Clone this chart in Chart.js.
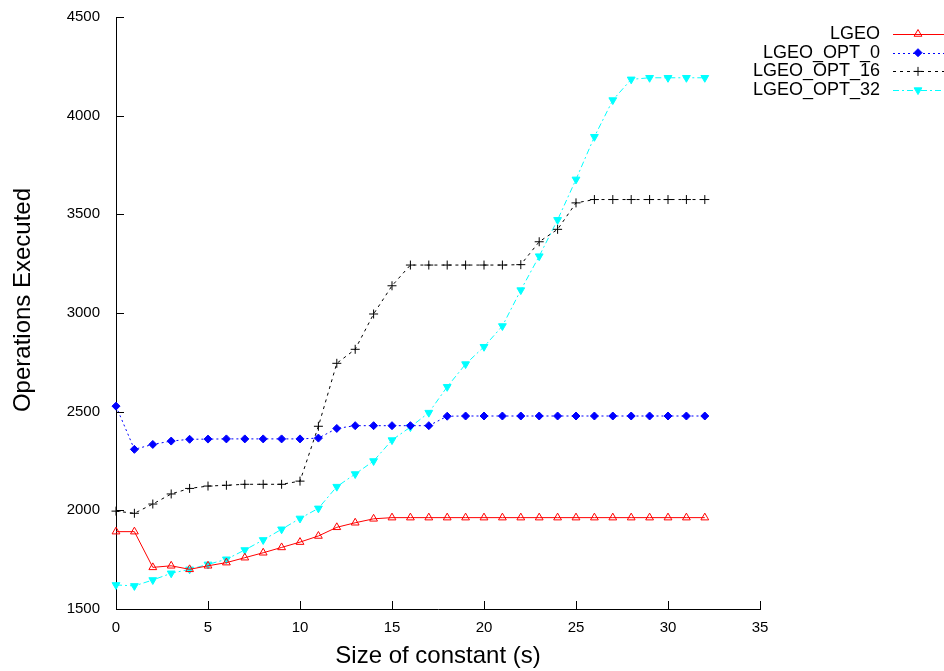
<!DOCTYPE html>
<html>
<head>
<meta charset="utf-8">
<script src="https://cdn.jsdelivr.net/npm/chart.js@4/dist/chart.umd.min.js"></script>
<style>
  html, body { margin: 0; padding: 0; background: #fff; }
  #wrap { width: 944px; height: 671px; }
</style>
</head>
<body>
<div id="wrap"><canvas id="opsChart" width="944" height="671"></canvas></div>
<script>
var sizes = [0, 1, 2, 3, 4, 5, 6, 7, 8, 9, 10, 11, 12, 13, 14, 15, 16,
             17, 18, 19, 20, 21, 22, 23, 24, 25, 26, 27, 28, 29, 30, 31, 32];

var lgeo = [1892, 1892, 1711, 1719, 1701, 1719, 1735, 1760, 1785, 1812, 1839,
            1870, 1914, 1937, 1957, 1963, 1963, 1963, 1963, 1963, 1963, 1963,
            1963, 1963, 1963, 1963, 1963, 1963, 1963, 1963, 1963, 1963, 1963];

var lgeoOpt0 = [2528, 2309, 2334, 2351, 2360, 2361, 2362, 2362, 2362, 2362, 2362,
                2366, 2415, 2429, 2429, 2429, 2429, 2429, 2477, 2478, 2478, 2478,
                2478, 2478, 2478, 2478, 2478, 2478, 2478, 2478, 2478, 2478, 2478];

var lgeoOpt16 = [1996, 1985, 2032, 2083, 2111, 2123, 2127, 2132, 2132, 2132, 2148,
                 2426, 2745, 2816, 2995, 3138, 3243, 3243, 3243, 3243, 3243, 3243,
                 3245, 3361, 3424, 3558, 3575, 3575, 3575, 3575, 3575, 3575, 3575];

var lgeoOpt32 = [1622, 1617, 1647, 1681, 1701, 1726, 1752, 1799, 1850, 1904, 1959,
                 2010, 2120, 2184, 2250, 2356, 2422, 2495, 2626, 2741, 2829, 2934,
                 3116, 3288, 3472, 3677, 3893, 4079, 4184, 4192, 4192, 4192, 4192];

var seriesNames = ["LGEO", "LGEO_OPT_0", "LGEO_OPT_16", "LGEO_OPT_32"];
var xTicks = [0, 5, 10, 15, 20, 25, 30, 35];
var yTicks = [1500, 2000, 2500, 3000, 3500, 4000, 4500];

function toPoints(arr) {
    return arr.map(function (v, i) { return { x: sizes[i], y: v }; });
}

var fontName = "'Liberation Sans', Arial, Helvetica, sans-serif";

var datasets = [
    {
        label: seriesNames[0],
        data: toPoints(lgeo),
        borderColor: "#ff0000",
        borderWidth: 1,
        pointStyle: "triangle",
        pointRadius: 4.5,
        pointBorderWidth: 1,
        pointBorderColor: "#ff0000",
        pointBackgroundColor: "rgba(255,255,255,0)",
    },
    {
        label: seriesNames[1],
        data: toPoints(lgeoOpt0),
        borderColor: "#0000ff",
        borderWidth: 1,
        borderDash: [2, 3],
        pointStyle: "rectRot",
        pointRadius: 4,
        pointBorderWidth: 1,
        pointBorderColor: "#0000ff",
        pointBackgroundColor: "#0000ff",
    },
    {
        label: seriesNames[2],
        data: toPoints(lgeoOpt16),
        borderColor: "#000000",
        borderWidth: 1,
        borderDash: [3, 4],
        pointStyle: "cross",
        pointRadius: 4.5,
        pointBorderWidth: 1,
        pointBorderColor: "#000000",
        pointBackgroundColor: "#000000",
    },
    {
        label: seriesNames[3],
        data: toPoints(lgeoOpt32),
        borderColor: "#00ffff",
        borderWidth: 1,
        borderDash: [6, 3, 2, 3],
        pointStyle: "triangle",
        pointRotation: 180,
        pointRadius: 4.5,
        pointBorderWidth: 1,
        pointBorderColor: "#00ffff",
        pointBackgroundColor: "#00ffff",
    },
];

// gnuplot style: ticks pointing into the plot, y title, legend at top right
var gnuplotLook = {
    id: "gnuplotLook",
    afterDraw: function (chart) {
        var c = chart.ctx;
        var area = chart.chartArea;
        var xs = chart.scales.x;
        var ys = chart.scales.y;
        c.save();
        c.strokeStyle = "#000";
        c.lineWidth = 1;
        c.beginPath();
        xTicks.forEach(function (t) {
            var px = Math.round(xs.getPixelForValue(t)) + 0.5;
            c.moveTo(px, area.bottom);
            c.lineTo(px, area.bottom - 8);
        });
        yTicks.forEach(function (t) {
            var py = Math.round(ys.getPixelForValue(t)) + 0.5;
            c.moveTo(area.left, py);
            c.lineTo(area.left + 8, py);
        });
        c.stroke();

        // y axis title, sits a little above the plot's middle
        c.save();
        c.translate(23, 300);
        c.rotate(-Math.PI / 2);
        c.font = "24px " + fontName;
        c.fillStyle = "#000";
        c.textAlign = "center";
        c.textBaseline = "middle";
        c.fillText("Operations Executed", 0, 0);
        c.restore();

        // legend: right-aligned text, then a line sample with its marker
        c.font = "18px " + fontName;
        c.textAlign = "right";
        c.textBaseline = "middle";
        chart.data.datasets.forEach(function (ds, i) {
            var y = 34 + i * 18.7;
            c.fillStyle = "#000";
            c.fillText(ds.label, 880, y);
            c.save();
            c.strokeStyle = ds.borderColor;
            c.lineWidth = 1;
            c.setLineDash(ds.borderDash || []);
            c.beginPath();
            c.moveTo(893, Math.round(y) + 0.5);
            c.lineTo(944, Math.round(y) + 0.5);
            c.stroke();
            c.restore();

            c.save();
            c.fillStyle = ds.pointBackgroundColor;
            c.strokeStyle = ds.pointBorderColor;
            c.lineWidth = 1;
            Chart.helpers.drawPoint(c, {
                pointStyle: ds.pointStyle,
                rotation: ds.pointRotation || 0,
                radius: ds.pointRadius,
                borderWidth: 1,
            }, 918, y);
            c.restore();
        });
        c.restore();
    },
};

var ctx = document.getElementById("opsChart").getContext("2d");
var opsChart = new Chart(ctx, {
    type: "line",
    data: { datasets: datasets },
    options: {
        responsive: false,
        animation: false,
        clip: false,
        layout: { padding: { left: 0, right: 184, top: 17, bottom: 0 } },
        plugins: {
            legend: { display: false },
            tooltip: { enabled: false },
        },
        scales: {
            x: {
                type: "linear",
                min: 0,
                max: 35,
                afterBuildTicks: function (scale) {
                    scale.ticks = xTicks.map(function (v) { return { value: v }; });
                },
                afterFit: function (scale) {
                    scale.height = 62;
                    scale.paddingLeft = 0;
                    scale.paddingRight = 0;
                },
                grid: { display: false, drawTicks: false },
                border: { display: true, color: "#000", width: 1 },
                ticks: {
                    color: "#000",
                    padding: 10,
                    maxRotation: 0,
                    font: { family: fontName, size: 15 },
                    callback: function (v) { return String(v); },
                },
                title: {
                    display: true,
                    text: "Size of constant (s)",
                    color: "#000",
                    padding: { top: 0, bottom: 0 },
                    font: { family: fontName, size: 24 },
                },
            },
            y: {
                type: "linear",
                min: 1500,
                max: 4500,
                afterBuildTicks: function (scale) {
                    scale.ticks = yTicks.map(function (v) { return { value: v }; });
                },
                afterFit: function (scale) {
                    scale.width = 116;
                    scale.paddingTop = 0;
                    scale.paddingBottom = 0;
                },
                grid: { display: false, drawTicks: false },
                border: { display: true, color: "#000", width: 1 },
                ticks: {
                    color: "#000",
                    padding: 16,
                    font: { family: fontName, size: 15 },
                    callback: function (v) { return String(v); },
                },
            },
        },
    },
    plugins: [gnuplotLook],
});
</script>
</body>
</html>
